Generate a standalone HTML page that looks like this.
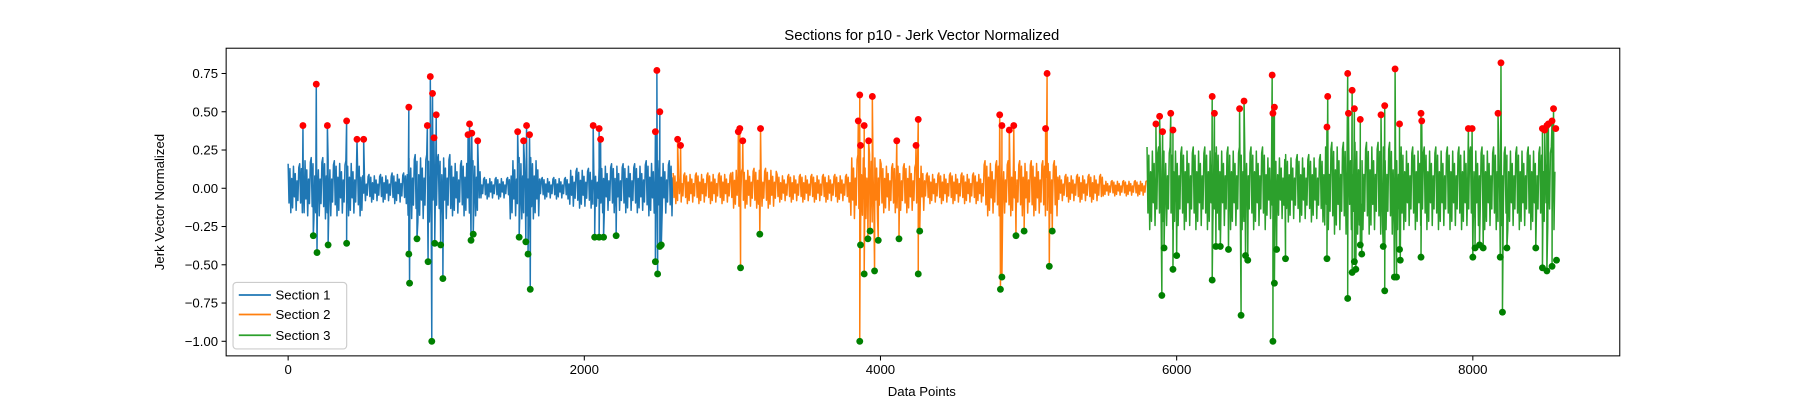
<!DOCTYPE html>
<html><head><meta charset="utf-8"><style>
body{margin:0;background:#fff;overflow:hidden;}
svg text{font-family:"Liberation Sans","DejaVu Sans",sans-serif;fill:#000;}
</style></head><body>
<svg id="chart" width="1800" height="400" viewBox="0 0 1568 348.44" preserveAspectRatio="none">
<rect x="0" y="0" width="1568" height="348.44" fill="#fff"/>
<text x="803" y="35" font-size="13" text-anchor="middle">Sections for p10 - Jerk Vector Normalized</text>
<g id="plot"></g>
<g id="axes"></g>
<text x="803" y="345" font-size="11.5" text-anchor="middle">Data Points</text>
<text transform="translate(143,176) rotate(-90)" font-size="11.5" text-anchor="middle">Jerk Vector Normalized</text>
<g>
<rect x="203" y="246" width="99" height="58" rx="3" fill="#fff" fill-opacity="0.8" stroke="#ccc"/>
<g><line x1="208" y1="257" x2="236" y2="257" stroke="#1f77b4" stroke-width="1.5"/><text x="240" y="261" font-size="11.5">Section 1</text></g>
<g><line x1="208" y1="274" x2="236" y2="274" stroke="#ff7f0e" stroke-width="1.5"/><text x="240" y="278" font-size="11.5">Section 2</text></g>
<g><line x1="208" y1="292" x2="236" y2="292" stroke="#2ca02c" stroke-width="1.5"/><text x="240" y="296" font-size="11.5">Section 3</text></g>
</g>
</svg>
<script>
// Section ranges (data indices)
const sectionStarts=[0,2600,5800];
const sectionEnds=[2600,5800,8560];
const sectionColors=["#1f77b4","#ff7f0e","#2ca02c"];
// noise envelope amplitude per 100-point bin
const amp1=[0.16,0.2,0.2,0.18,0.18,0.09,0.09,0.1,0.22,0.22,0.22,0.18,0.18,0.07,0.07,0.2,0.2,0.07,0.07,0.13,0.13,0.16,0.16,0.16,0.18,0.18];
const amp2=[0.1,0.1,0.1,0.1,0.13,0.13,0.13,0.09,0.09,0.09,0.09,0.09,0.22,0.22,0.16,0.16,0.16,0.1,0.1,0.1,0.1,0.18,0.18,0.18,0.18,0.18,0.09,0.09,0.09,0.05,0.05,0.05];
const amp3=[0.27,0.27,0.27,0.27,0.27,0.27,0.27,0.27,0.22,0.22,0.22,0.22,0.3,0.3,0.3,0.3,0.3,0.27,0.27,0.27,0.27,0.27,0.27,0.27,0.27,0.27,0.27,0.27];
// red (max) peaks
const redX=[100,190,265,395,465,510,815,940,960,975,985,1000,1215,1225,1240,1280,1550,1590,1610,1630,2060,2100,2110,2480,2490,2510,2630,2650,3040,3050,3070,3190,3850,3860,3865,3890,3920,3945,4110,4240,4255,4805,4820,4870,4900,5115,5125,5860,5885,5905,5960,5975,6240,6255,6425,6455,6645,6650,6660,7015,7020,7155,7160,7185,7200,7240,7380,7405,7475,7505,7650,7655,7970,7995,8170,8190,8470,8485,8500,8510,8535,8545,8560];
const redY=[0.41,0.68,0.41,0.44,0.32,0.32,0.53,0.41,0.73,0.62,0.33,0.48,0.35,0.42,0.36,0.31,0.37,0.31,0.41,0.35,0.41,0.39,0.32,0.37,0.77,0.50,0.32,0.28,0.37,0.39,0.31,0.39,0.44,0.61,0.28,0.41,0.31,0.60,0.31,0.28,0.45,0.48,0.41,0.38,0.41,0.39,0.75,0.42,0.47,0.37,0.49,0.38,0.60,0.49,0.52,0.57,0.74,0.49,0.53,0.40,0.60,0.75,0.49,0.64,0.52,0.45,0.48,0.54,0.78,0.42,0.49,0.44,0.39,0.39,0.49,0.82,0.39,0.38,0.41,0.42,0.44,0.52,0.39];
// green (min) peaks
const greenX=[170,195,270,395,815,820,870,945,970,990,1030,1045,1235,1250,1560,1605,1620,1635,2070,2100,2130,2215,2480,2495,2510,2520,3055,3185,3860,3865,3890,3915,3930,3960,3985,4125,4255,4265,4810,4820,4915,4970,5140,5160,5900,5915,5975,6000,6240,6265,6295,6350,6435,6465,6480,6650,6660,6675,6735,7015,7155,7185,7200,7210,7240,7250,7395,7405,7470,7485,7505,7510,7650,8000,8015,8045,8070,8185,8200,8230,8425,8470,8500,8535,8565];
const greenY=[-0.31,-0.42,-0.37,-0.36,-0.43,-0.62,-0.33,-0.48,-1.00,-0.36,-0.37,-0.59,-0.34,-0.30,-0.32,-0.35,-0.43,-0.66,-0.32,-0.32,-0.32,-0.31,-0.48,-0.56,-0.38,-0.37,-0.52,-0.30,-1.00,-0.37,-0.56,-0.33,-0.28,-0.54,-0.34,-0.33,-0.56,-0.28,-0.66,-0.58,-0.31,-0.28,-0.51,-0.28,-0.70,-0.39,-0.53,-0.44,-0.60,-0.38,-0.38,-0.40,-0.83,-0.44,-0.47,-1.00,-0.62,-0.40,-0.46,-0.46,-0.72,-0.55,-0.48,-0.53,-0.37,-0.43,-0.38,-0.67,-0.58,-0.58,-0.40,-0.47,-0.45,-0.45,-0.39,-0.37,-0.39,-0.45,-0.81,-0.39,-0.39,-0.52,-0.54,-0.51,-0.47];
const xTicks=[0,2000,4000,6000,8000];
const yTicks=[0.75,0.5,0.25,0,-0.25,-0.5,-0.75,-1.0];

const NS="http://www.w3.org/2000/svg";
const L=197,R=1411,T=42,B=310;
function sx(v){return 251+v*0.129;}
function sy(v){return 164-v*133.3;}
function mk(tag,attrs,parent){const e=document.createElementNS(NS,tag);for(const k in attrs)e.setAttribute(k,attrs[k]);parent.appendChild(e);return e;}
const plot=document.getElementById('plot');
const axes=document.getElementById('axes');
const amps=[amp1,amp2,amp3];
const pattern=[1,-0.6,0.8,-1,0.4,-0.8,0.9,-0.35,0.6,-0.9,0.3,-0.5,0.85];
for(let s=0;s<3;s++){
  const pts=[];
  const peaks=[];
  redX.forEach((x,i)=>{if(x>=sectionStarts[s]&&x<sectionEnds[s])peaks.push([x,redY[i]]);});
  greenX.forEach((x,i)=>{if(x>=sectionStarts[s]&&x<sectionEnds[s])peaks.push([x,greenY[i]]);});
  let k=0;
  for(let x=sectionStarts[s];x<sectionEnds[s];x+=6){
    const a=amps[s][Math.min(amps[s].length-1,Math.floor((x-sectionStarts[s])/100))];
    pts.push([x,a*pattern[k%pattern.length]]);k++;
  }
  peaks.forEach(p=>pts.push(p));
  pts.sort((a,b)=>a[0]-b[0]);
  const d=pts.map((p,i)=>(i?'L':'M')+sx(p[0]).toFixed(2)+','+sy(p[1]).toFixed(2)).join('');
  const path=mk('path',{d:d,fill:'none',stroke:sectionColors[s],'stroke-width':1.3,'stroke-linejoin':'round'},plot);
  
  
}
redX.forEach((x,i)=>{
  const c=mk('circle',{cx:sx(x),cy:sy(redY[i]),r:3,fill:'red'},plot);
  
  
});
greenX.forEach((x,i)=>{
  const c=mk('circle',{cx:sx(x),cy:sy(greenY[i]),r:3,fill:'green'},plot);
  
  
});
const frame=mk('rect',{x:L,y:T,width:R-L,height:B-T,fill:'none',stroke:'#000','stroke-width':0.9},axes);


xTicks.forEach(v=>{
  const x=sx(v);
  mk('line',{x1:x,y1:B,x2:x,y2:B+4,stroke:'#000','stroke-width':0.9},axes);
  const t=mk('text',{x:x,y:B+16,'font-size':11.5,'text-anchor':'middle'},axes);
  t.textContent=v;
  
  
});
yTicks.forEach(v=>{
  const y=sy(v);
  mk('line',{x1:L-4,y1:y,x2:L,y2:y,stroke:'#000','stroke-width':0.9},axes);
  const t=mk('text',{x:L-7,y:y+4,'font-size':11.5,'text-anchor':'end'},axes);
  t.textContent=(v<0?'\u2212':'')+Math.abs(v).toFixed(2);
  
  
});
</script>
</body></html>
